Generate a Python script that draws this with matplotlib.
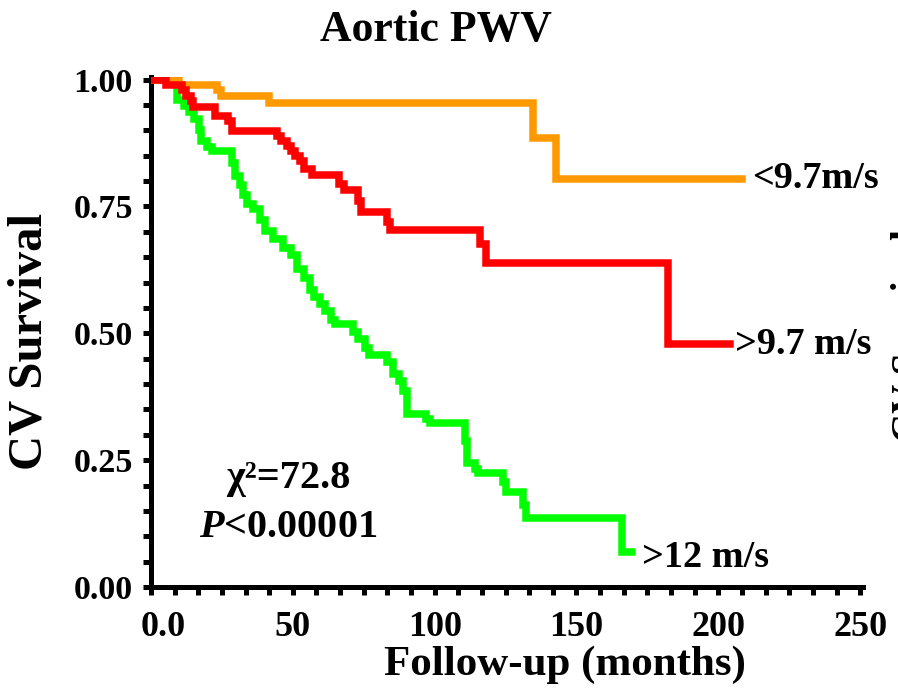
import numpy as np
import matplotlib
matplotlib.use("Agg")
import matplotlib.pyplot as plt
from matplotlib.ticker import MultipleLocator, FixedLocator
from matplotlib.transforms import ScaledTranslation

plt.rcParams['font.family'] = ['Liberation Serif', 'DejaVu Serif']
plt.rcParams['font.weight'] = 'bold'
plt.rcParams['mathtext.fontset'] = 'custom'
plt.rcParams['mathtext.rm'] = 'Liberation Serif:bold'
plt.rcParams['mathtext.it'] = 'Liberation Serif:italic:bold'
plt.rcParams['mathtext.bf'] = 'Liberation Serif:bold'

# Kaplan-Meier step data (months, survival)
low_t = [0, 9.8, 23.2, 24.6, 41.5, 134.6, 142.7, 208.4]
low_s = [1.0, 0.990, 0.980, 0.967, 0.954, 0.885, 0.804, 0.804]

mid_t = [0, 5.3, 10.9, 12.3, 14.1, 14.8, 22.5, 27.1, 28.5, 44.3, 46.0, 47.8, 49.2,
         50.9, 52.7, 54.1, 56.6, 66.4, 68.2, 73.1, 74.1, 83.3, 84.3, 116.0, 118.1,
         182.4, 204.1]
mid_s = [1.0, 0.989, 0.979, 0.968, 0.957, 0.946, 0.928, 0.919, 0.899, 0.889, 0.879,
         0.869, 0.860, 0.850, 0.840, 0.823, 0.811, 0.795, 0.782, 0.760, 0.738, 0.720,
         0.703, 0.675, 0.638, 0.478, 0.478]

high_t = [0, 9.1, 11.6, 13.4, 15.1, 16.9, 17.6, 19.7, 21.4, 28.5, 29.5, 31.3, 32.3,
          33.7, 35.8, 38.3, 40.1, 42.9, 46.4, 49.5, 51.3, 54.1, 55.9, 57.6, 59.7,
          61.5, 63.6, 65.0, 71.3, 73.1, 75.5, 76.9, 83.3, 85.4, 87.5, 88.9, 90.3,
          97.0, 98.4, 110.7, 111.4, 114.2, 115.2, 124.0, 125.1, 131.1, 132.1, 166.2,
          169.7]
high_s = [1.0, 0.960, 0.948, 0.936, 0.923, 0.901, 0.878, 0.868, 0.860, 0.836, 0.809,
          0.793, 0.772, 0.754, 0.744, 0.723, 0.701, 0.686, 0.668, 0.654, 0.627, 0.609,
          0.586, 0.572, 0.558, 0.543, 0.527, 0.519, 0.503, 0.488, 0.470, 0.458, 0.443,
          0.419, 0.405, 0.386, 0.341, 0.331, 0.323, 0.288, 0.245, 0.233, 0.225, 0.206,
          0.188, 0.161, 0.135, 0.069, 0.069]

x_ticks = [0, 50, 100, 150, 200, 250]
x_ticklabels = ['0.0', '50', '100', '150', '200', '250']
y_ticks = [0.0, 0.25, 0.5, 0.75, 1.0]
y_ticklabels = ['0.00', '0.25', '0.50', '0.75', '1.00']

labels = ['<9.7m/s', '>9.7 m/s', '>12 m/s']
colors = ['#FF9900', '#FF0000', '#00FF00']

fig = plt.figure(figsize=(8.98, 6.88), dpi=100)
ax = fig.add_axes([151/898, 1-587/688, 712/898, 510/688])

lw = 5.4
ax.step(high_t, high_s, where='post', color=colors[2], lw=lw, solid_joinstyle='miter', zorder=3)
ax.step(low_t, low_s, where='post', color=colors[0], lw=lw, solid_joinstyle='miter', zorder=4)
ax.step(mid_t, mid_s, where='post', color=colors[1], lw=lw, solid_joinstyle='miter', zorder=5)

ax.set_xlim(0, 251)
ax.set_ylim(0, 1.005)
for s in ['top', 'right']:
    ax.spines[s].set_visible(False)
for s in ['left', 'bottom']:
    ax.spines[s].set_linewidth(3.6)

ax.xaxis.set_major_locator(FixedLocator(x_ticks))
ax.set_xticklabels(x_ticklabels)
ax.xaxis.set_minor_locator(MultipleLocator(50/6))
ax.yaxis.set_major_locator(FixedLocator(y_ticks))
ax.set_yticklabels(y_ticklabels)
ax.yaxis.set_minor_locator(MultipleLocator(0.05))
ax.tick_params(axis='both', which='both', direction='out', length=6, width=3.6)
ax.tick_params(axis='x', which='major', labelsize=26, pad=11)
ax.tick_params(axis='y', which='major', labelsize=24.5, pad=7)
for lab in ax.get_xticklabels():
    lab.set_fontweight('bold')
for lab in ax.get_yticklabels():
    lab.set_fontweight('bold')
first = ax.xaxis.get_major_ticks()[0].label1
first.set_transform(first.get_transform() + ScaledTranslation(0.12, 0, fig.dpi_scale_trans))

fig.text(0.486, 0.956, 'Aortic PWV', fontsize=31.5, fontweight='bold',
         ha='center', va='center')
fig.text(0.033, 0.503, 'CV Survival', rotation=90, fontsize=35, fontweight='bold',
         ha='center', va='center')
fig.text(0.629, 0.034, 'Follow-up (months)', fontsize=31, fontweight='bold',
         ha='center', va='center')

# curve labels
ax.text(212.0, 0.805, labels[0], fontsize=27.5, fontweight='bold', ha='left', va='center')
ax.text(206.0, 0.478, labels[1], fontsize=27.5, fontweight='bold', ha='left', va='center')
ax.text(173.2, 0.058, labels[2], fontsize=27.5, fontweight='bold', ha='left', va='center')

ax.text(48.5, 0.214, 'χ²=72.8', fontsize=29, fontweight='bold', ha='center', va='center')
ax.text(48.5, 0.117, r'$\it{P}$<0.00001', fontsize=29, fontweight='bold', ha='center', va='center')

# clipped neighbouring panel label
fig.text(891/898, 0.513, 'CV Survival', rotation=90, fontsize=29, fontweight='bold',
         ha='left', va='center')

fig.savefig('out.png', dpi=100)
